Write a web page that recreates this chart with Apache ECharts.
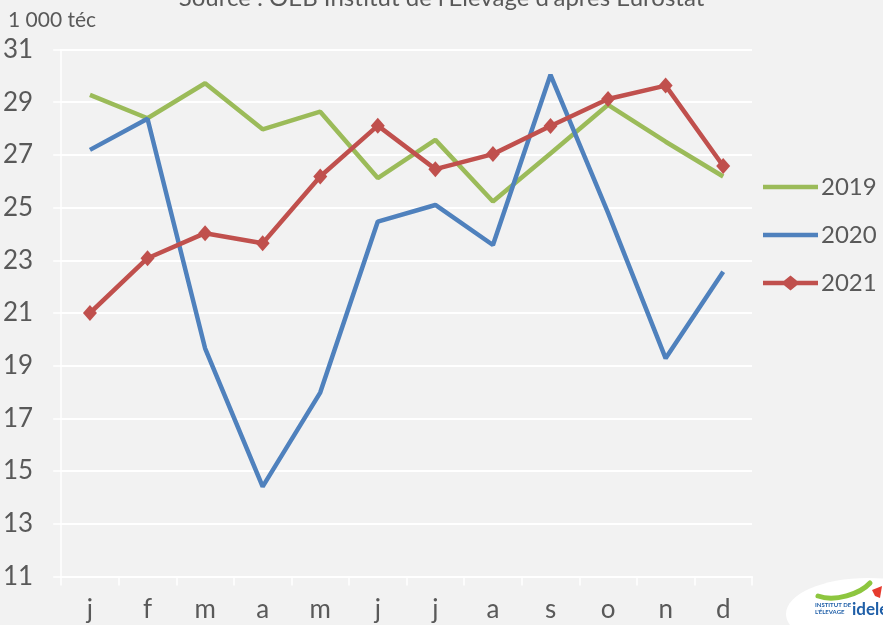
<!DOCTYPE html>
<html>
<head>
<meta charset="utf-8">
<script src="https://cdn.jsdelivr.net/npm/echarts@6/dist/echarts.min.js"></script>
<style>
  html, body { margin: 0; padding: 0; background: #f2f2f2; }
  #chart { width: 883px; height: 625px; }
</style>
</head>
<body>
<div id="chart"></div>
<script>
// Months (French initials)
const months = ['j', 'f', 'm', 'a', 'm', 'j', 'j', 'a', 's', 'o', 'n', 'd'];

// Monthly volumes, 1 000 téc
const y2019 = [29.28, 28.39, 29.72, 27.97, 28.64, 26.12, 27.57, 25.23, 27.05, 28.9, 27.5, 26.18];
const y2020 = [27.19, 28.37, 19.66, 14.41, 17.98, 24.47, 25.1, 23.58, 30.04, 24.8, 19.28, 22.57];
const y2021 = [21.0, 23.08, 24.03, 23.65, 26.18, 28.11, 26.46, 27.03, 28.1, 29.12, 29.63, 26.58];

const yTicks = { min: 11, max: 31, step: 2 };

const FONT = 'Lato, "Noto Sans", sans-serif';
const TXT = '#595959';
// legend swatches: plain thick line, and thick line with a diamond
const LINE_ICON = 'path://M0,0 L55,0 L55,4.5 L0,4.5 Z';
const DIAMOND_LINE_ICON = 'path://M0,5.25 L21,5.25 L27.5,0 L34,5.25 L55,5.25 L55,9.75 L34,9.75 L27.5,15 L21,9.75 L0,9.75 Z';

const chart = echarts.init(document.getElementById('chart'), null, { renderer: 'canvas' });

chart.setOption({
  backgroundColor: '#f2f2f2',
  animation: false,
  grid: { left: 61, right: 131, top: 49.5, bottom: 48.5 },
  legend: {
    orient: 'vertical',
    left: 763,
    top: 175,
    padding: 0,
    itemWidth: 55,
    itemHeight: 15,
    itemGap: 24,
    textStyle: { fontFamily: FONT, fontSize: 24, color: TXT, padding: [0, 0, 0, -2] },
    data: [
      { name: '2019', icon: LINE_ICON },
      { name: '2020', icon: LINE_ICON },
      { name: '2021', icon: DIAMOND_LINE_ICON }
    ]
  },
  xAxis: {
    type: 'category',
    data: months,
    boundaryGap: true,
    axisLine: { lineStyle: { color: '#ffffff', width: 2 } },
    axisTick: { show: true, length: 9, lineStyle: { color: '#ffffff', width: 1.5 } },
    axisLabel: { fontFamily: FONT, fontSize: 26, color: TXT, margin: 20 }
  },
  yAxis: {
    type: 'value',
    min: yTicks.min,
    max: yTicks.max,
    interval: yTicks.step,
    axisLine: { show: true, lineStyle: { color: '#ffffff', width: 1.5 } },
    axisTick: { show: true, length: 8, lineStyle: { color: '#ffffff', width: 1.5 } },
    splitLine: { lineStyle: { color: '#ffffff', width: 2 } },
    axisLabel: { fontFamily: FONT, fontSize: 26, color: TXT, margin: 28 }
  },
  series: [
    {
      name: '2019', type: 'line', data: y2019,
      symbol: 'none', lineStyle: { color: '#9bbb59', width: 4.5 },
      itemStyle: { color: '#9bbb59' }, z: 2
    },
    {
      name: '2020', type: 'line', data: y2020,
      symbol: 'none', lineStyle: { color: '#4f81bd', width: 4.5 },
      itemStyle: { color: '#4f81bd' }, z: 3
    },
    {
      name: '2021', type: 'line', data: y2021,
      symbol: 'diamond', symbolSize: [14, 16], showAllSymbol: true,
      lineStyle: { color: '#c0504d', width: 4.5 },
      itemStyle: { color: '#c0504d' }, z: 4
    }
  ],
  graphic: [
    {
      type: 'text', left: 'center', top: -14,
      style: { text: "Source : OEB Institut de l'Elevage d'après Eurostat", fontFamily: FONT, fontSize: 24, fill: TXT }
    },
    {
      type: 'text', left: 8, top: 10,
      style: { text: '1 000 téc', fontFamily: FONT, fontSize: 21, fill: TXT }
    },
    // logo
    {
      type: 'ellipse', shape: { cx: 868, cy: 614, rx: 82, ry: 36 },
      style: { fill: '#ffffff' }, z: 10
    },
    {
      type: 'bezierCurve',
      shape: { x1: 818, y1: 596, x2: 870, y2: 583, cpx1: 835, cpy1: 602, cpx2: 860, cpy2: 594 },
      style: { stroke: '#8dc63f', lineWidth: 5, fill: null, lineCap: 'round' }, z: 11
    },
    {
      type: 'text', x: 815, y: 602,
      style: { text: "INSTITUT DE\nL'ÉLEVAGE", fontFamily: FONT, fontSize: 6, fontWeight: 'bold', fill: '#1f5fa8', lineHeight: 7 }, z: 11
    },
    {
      type: 'text', x: 852, y: 601,
      style: { text: 'idele', fontFamily: FONT, fontSize: 17, fontWeight: 'bold', fill: '#1f5fa8' }, z: 11
    },
    {
      type: 'polygon', shape: { points: [[872, 590], [882, 586], [880, 598], [875, 596]] },
      style: { fill: '#e63b2e' }, z: 11
    }
  ]
});
</script>
</body>
</html>
